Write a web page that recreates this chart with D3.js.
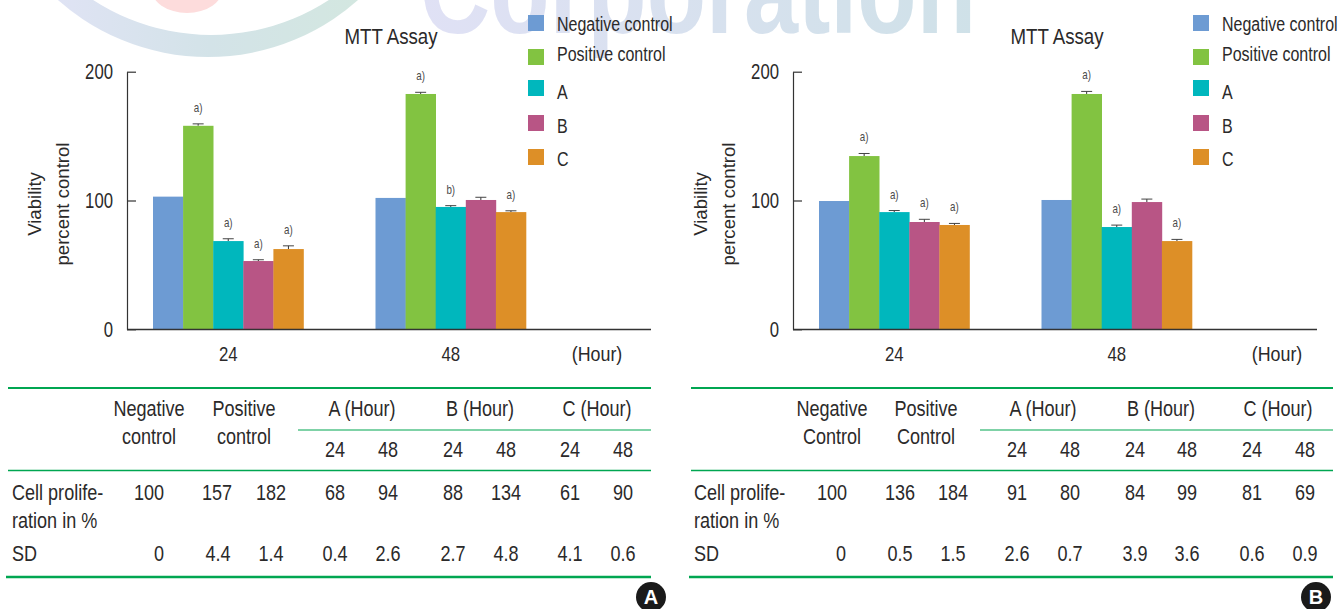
<!DOCTYPE html>
<html>
<head>
<meta charset="utf-8">
<title>MTT Assay</title>
<script src="https://cdnjs.cloudflare.com/ajax/libs/d3/7.8.5/d3.min.js"></script>
<style>
  html, body { margin: 0; padding: 0; background: #fff; }
  svg { display: block; }
  text { fill: #2b2a2a; font-family: "Liberation Sans", sans-serif; }
</style>
</head>
<body>
<svg id="chart" width="1340" height="609"></svg>
<script>
// Data.
const hours = ['24', '48'];
const seriesNames = ['Negative control', 'Positive control', 'A', 'B', 'C'];
const seriesColours = ['#6d9bd3', '#82c341', '#00b7bd', '#b85585', '#dd8f27'];

const barsA = [[103, 158, 68.5, 53, 62.3], [102, 182.7, 95, 100.4, 91]];
const errsA = [[0, 1.5, 1.8, 1, 2.5], [0, 1.3, 1, 2.1, 1]];
const notesA = [['', 'a)', 'a)', 'a)', 'a)'], ['', 'a)', 'b)', '', 'a)']];

const barsB = [[99.6, 134.5, 91, 83.3, 81], [100.4, 182.7, 79.4, 98.8, 68.5]];
const errsB = [[0, 2, 1.2, 2.1, 1.2], [0, 2, 1.5, 2.3, 1.3]];
const notesB = [['', 'a)', 'a)', 'a)', 'a)'], ['', 'a)', 'a)', '', 'a)']];

const yTicks = [0, 100, 200];

const groupHeadersA = [['Negative', 'control'], ['Positive', 'control']];
const groupHeadersB = [['Negative', 'Control'], ['Positive', 'Control']];
const hourHeaders = ['A (Hour)', 'B (Hour)', 'C (Hour)'];
const subHeaders = ['24', '48', '24', '48', '24', '48'];
const rowLabels = ['Cell prolife-', 'ration in %', 'SD'];

const prolifA = ['100', '157', '182', '68', '94', '88', '134', '61', '90'];
const sdA = ['0', '4.4', '1.4', '0.4', '2.6', '2.7', '4.8', '4.1', '0.6'];
const prolifB = ['100', '136', '184', '91', '80', '84', '99', '81', '69'];
const sdB = ['0', '0.5', '1.5', '2.6', '0.7', '3.9', '3.6', '0.6', '0.9'];

const GREEN = '#00a651';
const LEGEND_TOPS = [15, 49, 80, 115, 149];
const LEGEND_BASE = [16, 12, 19, 18, 17];   // baseline below swatch top, differs row to row
const svg = d3.select('#chart');

// The original face is condensed and no narrow font is installed, so squeeze the glyphs.
function squeeze(sel, factor) {
  sel.each(function () {
    const w = this.getComputedTextLength();
    d3.select(this).attr('textLength', w * factor).attr('lengthAdjust', 'spacingAndGlyphs');
  });
}

// Faded logo watermark along the top edge.
function drawWatermark() {
  const defs = svg.append('defs');
  const grad = defs.append('linearGradient').attr('id', 'wm')
    .attr('gradientUnits', 'userSpaceOnUse')
    .attr('x1', 60).attr('x2', 360).attr('y1', 0).attr('y2', 0);
  grad.append('stop').attr('offset', 0).attr('stop-color', '#dfe3f4');
  grad.append('stop').attr('offset', 0.5).attr('stop-color', '#d3e3e8');
  grad.append('stop').attr('offset', 1).attr('stop-color', '#d3e7e0');
  const gradText = defs.append('linearGradient').attr('id', 'wmText')
    .attr('gradientUnits', 'userSpaceOnUse')
    .attr('x1', 420).attr('x2', 975).attr('y1', 0).attr('y2', 0);
  gradText.append('stop').attr('offset', 0).attr('stop-color', '#e0e1f5');
  gradText.append('stop').attr('offset', 1).attr('stop-color', '#cfe1e8');

  svg.append('circle').attr('cx', 208).attr('cy', -169).attr('r', 226).attr('fill', 'url(#wm)');
  svg.append('circle').attr('cx', 211).attr('cy', -181).attr('r', 216).attr('fill', '#fff');
  svg.append('ellipse').attr('cx', 187).attr('cy', -12).attr('rx', 36).attr('ry', 25).attr('fill', '#fddcdc');
  svg.append('text').text('Corporation')
    .attr('x', 420).attr('y', 33)
    .attr('textLength', 556).attr('lengthAdjust', 'spacingAndGlyphs')
    .style('font-weight', 'bold')
    .style('font-size', '120px')
    .style('fill', 'url(#wmText)');
}

function drawPlot(g, bars, errs, notes, o) {
  const y = d3.scaleLinear().domain([0, 200]).range([329.3, 71.7]);
  const x0 = d3.scaleBand().domain(hours).range([o.left + 26, o.left + 399]).paddingInner(0.3236).paddingOuter(0);
  const x1 = d3.scaleBand().domain(seriesNames).range([0, x0.bandwidth()]);

  g.append('text').text('MTT Assay')
    .attr('x', o.titleX).attr('y', 44).attr('text-anchor', 'middle')
    .style('font-size', '22px')
    .call(squeeze, 0.85);

  const groups = g.selectAll('g.group').data(hours).enter().append('g')
    .attr('class', 'group')
    .attr('transform', d => `translate(${x0(d)},0)`);

  groups.each(function (hour, i) {
    const rows = seriesNames.map((name, k) => ({
      name, value: bars[i][k], err: errs[i][k], note: notes[i][k], colour: seriesColours[k]
    }));
    const grp = d3.select(this);

    const withErr = rows.filter(d => d.err > 0);
    const cx = d => x1(d.name) + x1.bandwidth() / 2;
    grp.selectAll('line.stem').data(withErr).enter().append('line')
      .attr('class', 'stem')
      .attr('x1', cx).attr('x2', cx)
      .attr('y1', d => y(d.value)).attr('y2', d => y(d.value + d.err))
      .attr('stroke', '#333').attr('stroke-width', 1);
    grp.selectAll('line.cap').data(withErr).enter().append('line')
      .attr('class', 'cap')
      .attr('x1', d => cx(d) - 5.5).attr('x2', d => cx(d) + 5.5)
      .attr('y1', d => y(d.value + d.err)).attr('y2', d => y(d.value + d.err))
      .attr('stroke', '#444').attr('stroke-width', 1);

    grp.selectAll('rect').data(rows).enter().append('rect')
      .attr('x', d => x1(d.name))
      .attr('y', d => y(d.value))
      .attr('width', x1.bandwidth() + 0.3)
      .attr('height', d => y(0) - y(d.value))
      .attr('fill', d => d.colour);

    grp.selectAll('text.note').data(rows.filter(d => d.note)).enter().append('text')
      .attr('class', 'note')
      .attr('x', cx)
      .attr('y', d => y(d.value + d.err) - 12)
      .attr('text-anchor', 'middle')
      .style('font-size', '13px')
      .style('fill', '#4a4a4a')
      .text(d => d.note)
      .call(squeeze, 0.75);
  });

  // axes
  const yAxis = d3.axisLeft(y).tickValues(yTicks).tickSize(-9).tickSizeOuter(0).tickPadding(14);
  const yG = g.append('g').attr('transform', `translate(${o.left},0)`).call(yAxis);
  yG.selectAll('path, line').attr('stroke', '#333').attr('stroke-width', 1.2);
  yG.selectAll('text').style('font-size', '22px').style('font-family', null).attr('fill', null).call(squeeze, 0.76);

  const xAxis = d3.axisBottom(x0).tickSize(0).tickPadding(17);
  const xG = g.append('g').attr('transform', 'translate(0,329.5)').call(xAxis);
  xG.select('.domain').remove();
  xG.selectAll('text').style('font-size', '21px').style('font-family', null).attr('fill', null).call(squeeze, 0.8);

  g.append('line')
    .attr('x1', o.left).attr('x2', o.left + 524)
    .attr('y1', 329.5).attr('y2', 329.5)
    .attr('stroke', '#333').attr('stroke-width', 1.6);

  g.append('text').text('(Hour)')
    .attr('x', o.hourX).attr('y', 361).attr('text-anchor', 'middle')
    .style('font-size', '21px')
    .call(squeeze, 0.85);

  // y title, two lines
  [['Viability', o.left - 86], ['percent control', o.left - 58]].forEach(([label, tx]) => {
    g.append('text').text(label)
      .attr('transform', `translate(${tx},204) rotate(-90)`)
      .attr('text-anchor', 'middle')
      .style('font-size', '18.6px');
  });

  // legend
  const legRows = g.selectAll('g.leg').data(seriesNames).enter().append('g').attr('class', 'leg')
    .attr('transform', (d, i) => `translate(${o.legendX},${LEGEND_TOPS[i]})`);
  legRows.append('rect').attr('width', 16).attr('height', 16)
    .attr('fill', (d, i) => seriesColours[i]);
  legRows.append('text').text(d => d)
    .attr('x', 29).attr('y', (d, i) => LEGEND_BASE[i])
    .style('font-size', '20px')
    .call(squeeze, 0.8);
}

function drawTable(g, headers, prolif, sd, o) {
  const rule = (x1, x2, yy, w) => g.append('line')
    .attr('x1', x1).attr('x2', x2).attr('y1', yy).attr('y2', yy)
    .attr('stroke', GREEN).attr('stroke-width', w);
  rule(o.x1, o.x2, 388, 1.8);
  rule(o.midX, o.x2, 430, 1.2);
  rule(o.x1, o.x2, 470.5, 1.4);
  rule(o.x1 - 2, o.x2, 577, 2.4);

  const put = (label, tx, ty, anchor) => g.append('text').text(label)
    .attr('x', tx).attr('y', ty).attr('text-anchor', anchor || 'middle')
    .style('font-size', '22px')
    .call(squeeze, 0.82);

  headers.forEach((lines, i) => {
    put(lines[0], o.headX[i], 416);
    put(lines[1], o.headX[i], 444);
  });
  hourHeaders.forEach((h, i) => put(h, o.hourHeadX[i], 416));
  subHeaders.forEach((h, i) => put(h, o.valX[i + 3], 457));

  put(rowLabels[0], o.labelX, 500, 'start');
  put(rowLabels[1], o.labelX, 528, 'start');
  put(rowLabels[2], o.labelX, 561, 'start');

  prolif.forEach((v, i) => put(v, o.valX[i], 500));
  sd.forEach((v, i) => put(v, o.sdX[i], 561));

  // panel badge
  g.append('circle').attr('cx', o.badgeX).attr('cy', 597).attr('r', 15).attr('fill', '#1a1a1a');
  g.append('text').text(o.badge)
    .attr('x', o.badgeX).attr('y', 604).attr('text-anchor', 'middle')
    .style('font-weight', 'bold').style('font-size', '20px').style('fill', '#fff');
}

drawWatermark();

const gA = svg.append('g');
drawPlot(gA, barsA, errsA, notesA, { left: 127, titleX: 391, hourX: 597, legendX: 528 });
drawTable(gA, groupHeadersA, prolifA, sdA, {
  x1: 8, x2: 651, midX: 298, labelX: 12, badge: 'A', badgeX: 651,
  headX: [149, 244], hourHeadX: [362, 480, 597],
  valX: [149, 217, 271, 335, 388, 453, 506, 570, 623],
  sdX: [159, 218, 271, 335, 388, 453, 506, 570, 623]
});

const gB = svg.append('g');
drawPlot(gB, barsB, errsB, notesB, { left: 793, titleX: 1057, hourX: 1277, legendX: 1193 });
drawTable(gB, groupHeadersB, prolifB, sdB, {
  x1: 691, x2: 1333, midX: 980, labelX: 694, badge: 'B', badgeX: 1316,
  headX: [832, 926], hourHeadX: [1043, 1161, 1278],
  valX: [832, 900, 953, 1017, 1070, 1135, 1187, 1252, 1305],
  sdX: [841, 900, 953, 1017, 1070, 1135, 1187, 1252, 1305]
});
</script>
</body>
</html>
